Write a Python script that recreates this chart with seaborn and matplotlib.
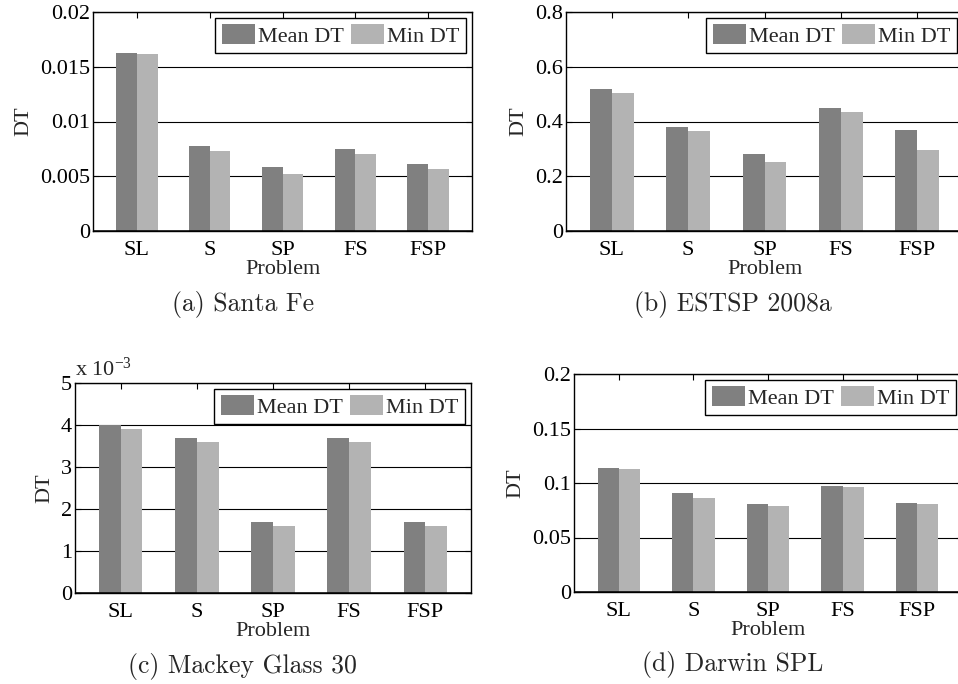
import numpy as np
import pandas as pd
import matplotlib
matplotlib.use("Agg")
import matplotlib.pyplot as plt
from matplotlib.ticker import FuncFormatter, MultipleLocator
from matplotlib.patches import Patch
import seaborn as sns

# ---- data -------------------------------------------------------------
problems = ["SL", "S", "SP", "FS", "FSP"]
series_names = ["Mean DT", "Min DT"]

santa_fe_mean = [0.0163, 0.0078, 0.0058, 0.0075, 0.0061]
santa_fe_min = [0.0162, 0.0073, 0.0052, 0.0070, 0.0057]

estsp_mean = [0.519, 0.380, 0.281, 0.449, 0.369]
estsp_min = [0.504, 0.365, 0.252, 0.435, 0.296]

mackey_mean = [0.0040, 0.0037, 0.0017, 0.0037, 0.0017]
mackey_min = [0.0039, 0.0036, 0.0016, 0.0036, 0.0016]

darwin_mean = [0.1137, 0.0909, 0.0808, 0.0973, 0.0817]
darwin_min = [0.1128, 0.0863, 0.0790, 0.0963, 0.0808]

captions = ["(a) Santa Fe", "(b) ESTSP 2008a", "(c) Mackey Glass 30", "(d) Darwin SPL"]
y_limits = [0.02, 0.8, 0.005, 0.2]
y_steps = [0.005, 0.2, 0.001, 0.05]

colors = ["#808080", "#b3b3b3"]

# ---- style ------------------------------------------------------------
sns.set_style("white")
plt.rcParams["font.family"] = ["Liberation Serif", "DejaVu Serif"]
plt.rcParams["mathtext.fontset"] = "custom"
plt.rcParams["mathtext.rm"] = "Liberation Serif"
plt.rcParams["mathtext.it"] = "Liberation Serif:italic"

W, H = 958, 684
fig = plt.figure(figsize=(W / 100, H / 100), dpi=100)


def px_axes(left, right, top, bottom):
    return fig.add_axes([left / W, (H - bottom) / H, (right - left) / W, (bottom - top) / H])


boxes = [
    (93, 472, 12, 231),
    (566, 963, 12, 231),
    (75, 471, 383, 593),
    (574, 962, 374, 592),
]
caption_pos = [(243, 305), (733, 305), (242, 667), (733, 665)]

datasets = [
    (santa_fe_mean, santa_fe_min),
    (estsp_mean, estsp_min),
    (mackey_mean, mackey_min),
    (darwin_mean, darwin_min),
]

FS = 16

for i, ((mean_vals, min_vals), box) in enumerate(zip(datasets, boxes)):
    ax = px_axes(*box)
    df = pd.DataFrame({
        "Problem": problems * 2,
        "DT": list(mean_vals) + list(min_vals),
        "stat": [series_names[0]] * len(problems) + [series_names[1]] * len(problems),
    })
    sns.barplot(data=df, x="Problem", y="DT", hue="stat", palette=colors,
                width=0.57, gap=0, saturation=1, edgecolor="none",
                linewidth=0, legend=False, ax=ax)

    ax.set_xlim(-0.6, len(problems) - 0.4)
    ax.set_ylim(0, y_limits[i])
    ax.yaxis.set_major_locator(MultipleLocator(y_steps[i]))
    if i == 2:
        ax.yaxis.set_major_formatter(FuncFormatter(lambda v, p: f"{round(v * 1e3, 6):g}"))
        ax.text(0.0, 1.01, r"x 10$^{\mathregular{-3}}$", transform=ax.transAxes,
                ha="left", va="bottom", fontsize=FS)
    else:
        ax.yaxis.set_major_formatter(FuncFormatter(lambda v, p: f"{round(v, 6):g}"))

    ax.grid(axis="y", color="black", linewidth=0.8)
    ax.grid(axis="x", visible=False)
    ax.set_axisbelow(True)
    ax.axhline(0, color="black", linewidth=1.8, zorder=5)

    for sp in ax.spines.values():
        sp.set_visible(True)
        sp.set_color("black")
        sp.set_linewidth(1.0)

    ax.tick_params(axis="both", which="both", direction="in", length=4, width=0.8,
                   top=True, right=True, bottom=True, left=True,
                   labelsize=FS, colors="black")
    ax.tick_params(axis="x", pad=7)
    ax.tick_params(axis="y", pad=2)

    ax.set_xlabel("Problem", fontsize=FS, labelpad=0)
    ax.set_ylabel("DT", fontsize=FS, labelpad=5)

    handles = [Patch(facecolor=c, edgecolor="none", label=n) for c, n in zip(colors, series_names)]
    leg = ax.legend(handles=handles, ncol=2, loc="upper right", fontsize=FS,
                    frameon=True, fancybox=False, edgecolor="black", framealpha=1,
                    handlelength=1.5, handleheight=1.0, handletextpad=0.15,
                    columnspacing=0.3, borderpad=0.3, borderaxespad=0.25)
    leg.get_frame().set_linewidth(1.0)

    cx, cy = caption_pos[i]
    fig.text(cx / W, (H - cy) / H, captions[i], ha="center", va="center",
             fontsize=18.5, family=["cmr10", "DejaVu Serif"])

fig.savefig("out.png", dpi=100, facecolor="white")
